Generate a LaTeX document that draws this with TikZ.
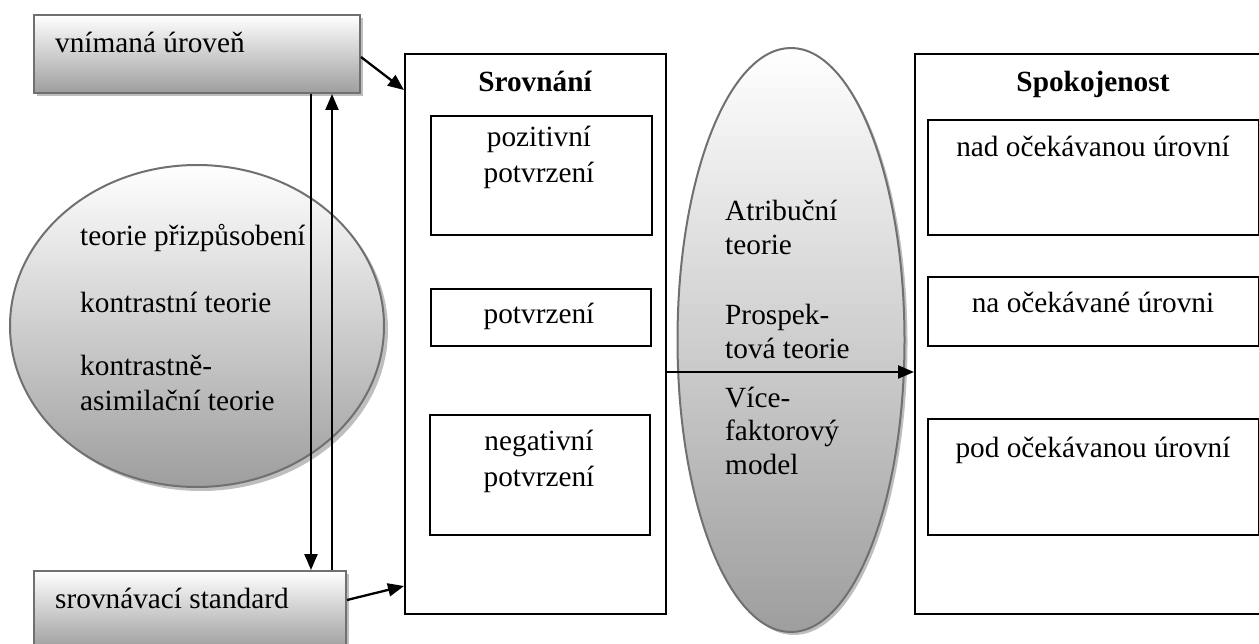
\documentclass[tikz,border=0pt]{standalone}
\usepackage{fontspec}
\setmainfont{Liberation Serif}
\usetikzlibrary{arrows.meta,shapes.geometric}
\definecolor{edgegray}{RGB}{112,112,112}
\definecolor{shadegray}{RGB}{158,158,158}
\definecolor{shadowgray}{RGB}{190,190,190}
\begin{document}
\begin{tikzpicture}[x=1pt,y=-1pt,
  every node/.style={font=\fontsize{29.3}{33.7}\selectfont},
  gbox/.style={draw=edgegray, line width=2pt, top color=white, bottom color=shadegray, rectangle, inner sep=0, anchor=north west},
  bbox/.style={draw=black, line width=1.8pt, rectangle, inner sep=0, anchor=north west, fill=white},
  gell/.style={draw=edgegray, line width=2pt, ellipse, inner sep=0, top color=white, bottom color=shadegray},
  arr/.style={-{Triangle[length=16pt,width=13pt]}, line width=2.3pt},
  lbl/.style={anchor=base west, inner sep=0},
  ctr/.style={anchor=base, inner sep=0},
  titl/.style={anchor=base, inner sep=0, font=\fontsize{29.3}{33.7}\selectfont\bfseries},
]
\useasboundingbox (0,0) rectangle (1259,644);
\clip (0,0) rectangle (1259,644);

% left gradient boxes
\fill[shadowgray] (37,18) rectangle (363,96);
\node[gbox, minimum width=326pt, minimum height=78pt] (perc) at (33,14) {};
\node[lbl] at (55,53) {vnímaná úroveň};
\fill[shadowgray] (37,574) rectangle (349,652);
\node[gbox, minimum width=312pt, minimum height=78pt] (std) at (33,570) {};
\node[lbl] at (55,608) {srovnávací standard};

% left circle
\fill[shadowgray] (201,330) ellipse [x radius=187pt, y radius=161pt];
\node[gell, minimum width=374pt, minimum height=322pt] (theo) at (197,326) {};
\node[lbl] at (80,246) {teorie přizpůsobení};
\node[lbl] at (80,313) {kontrastní teorie};
\node[lbl] at (80,376) {kontrastně-};
\node[lbl] at (80,410) {asimilační teorie};

% Srovnani
\node[bbox, minimum width=261pt, minimum height=560pt] (srov) at (404,53) {};
\node[titl] at (535,92) {Srovnání};
\node[bbox, minimum width=221pt, minimum height=119pt] (pos) at (430,115) {};
\node[ctr] at (539,147) {pozitivní};
\node[ctr] at (539,183) {potvrzení};
\node[bbox, minimum width=220pt, minimum height=57pt] (conf) at (430,288) {};
\node[ctr] at (539,324) {potvrzení};
\node[bbox, minimum width=220pt, minimum height=120pt] (neg) at (429,414) {};
\node[ctr] at (539,450) {negativní};
\node[ctr] at (539,486) {potvrzení};

% middle ellipse
\fill[shadowgray] (794,343) ellipse [x radius=113.5pt, y radius=292pt];
\node[gell, minimum width=227pt, minimum height=584pt] (mid) at (791,340) {};
\node[lbl] at (725,221) {Atribuční};
\node[lbl] at (725,255) {teorie};
\node[lbl] at (725,325) {Prospek-};
\node[lbl] at (725,359) {tová teorie};
\node[lbl] at (725,407) {Více-};
\node[lbl] at (725,440) {faktorový};
\node[lbl] at (725,474) {model};

% Spokojenost
\node[bbox, minimum width=357pt, minimum height=560pt] (spok) at (914,53) {};
\node[titl] at (1093,92) {Spokojenost};
\node[bbox, minimum width=331pt, minimum height=115pt] (above) at (927,119) {};
\node[ctr] at (1093,157) {nad očekávanou úrovní};
\node[bbox, minimum width=331pt, minimum height=69pt] (equal) at (927,276) {};
\node[ctr] at (1093,313) {na očekávané úrovni};
\node[bbox, minimum width=331pt, minimum height=116pt] (below) at (927,418) {};
\node[ctr] at (1093,457) {pod očekávanou úrovní};

% connectors
\draw[arr] (311,0 |- perc.south) -- (311,0 |- std.north);
\draw[arr] (332,0 |- std.north) -- (332,0 |- perc.south);
\draw[arr] ([yshift=-3pt]perc.east) -- (srov.west |- 0,90);
\draw[arr] ([yshift=10pt]std.east) -- (srov.west |- 0,586);
\draw[arr] (srov.east |- 0,372) -- (spok.west |- 0,372);
\end{tikzpicture}
\end{document}
